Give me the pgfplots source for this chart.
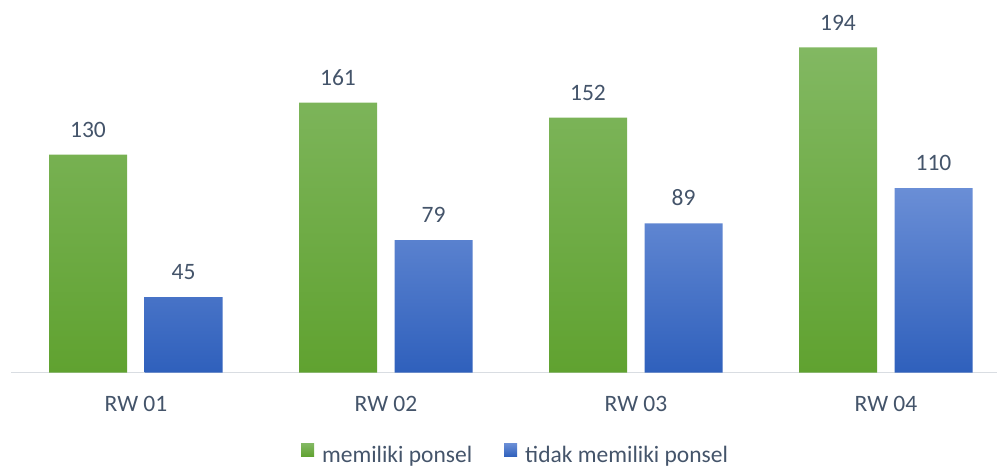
\documentclass[border=0pt]{standalone}
\usepackage{fontspec}
\setmainfont{Carlito}
\usepackage{pgfplots}
\pgfplotsset{compat=1.18}
\definecolor{txt}{HTML}{44546A}
\definecolor{axgray}{HTML}{D9DDE2}
\definecolor{gtop}{HTML}{82B862}
\definecolor{gbot}{HTML}{60A230}
\definecolor{btop}{HTML}{6A8ED6}
\definecolor{bbot}{HTML}{2F60BC}
\begin{document}
\begin{tikzpicture}
\useasboundingbox (0,0) rectangle (997bp,468bp);
\begin{axis}[
  at={(11bp,95.5bp)}, anchor=south west,
  scale only axis, width=986bp, height=352bp,
  xmin=-0.5, xmax=3.444, ymin=0, ymax=210,
  clip=false,
  ybar, bar width=78bp,
  hide y axis,
  axis x line=bottom,
  x axis line style={draw=axgray, line width=1.5bp, -},
  xtick={0,1,2,3},
  xticklabels={RW 01,RW 02,RW 03,RW 04},
  major tick length=0pt,
  /pgf/number format/assume math mode=true,
  x tick label style={font=\fontsize{23.5bp}{27bp}\selectfont, text=txt, anchor=north, inner sep=0pt, yshift=-24bp},
  nodes near coords,
  every node near coord/.append style={font=\fontsize{23.5bp}{27bp}\selectfont, text=txt, anchor=south, inner sep=0pt, yshift=17bp},
  legend style={at={(0.5117,-0.2344)}, anchor=center, draw=none, fill=none,
    legend columns=2, font=\fontsize{23.5bp}{27bp}\selectfont, text=txt,
    /tikz/every even column/.append style={column sep=30bp}},
  legend image code/.code={\path[#1,draw=none] (0bp,-1bp) rectangle (13bp,12bp); \path (13bp,0bp) -- (19bp,0bp);},
]
\addplot[bar shift=-48bp, draw=none, top color=gtop, bottom color=gbot]
  coordinates {(0,130) (1,161) (2,152) (3,194)};
\addlegendentry{memiliki ponsel}
\addplot[bar shift=47.5bp, draw=none, top color=btop, bottom color=bbot]
  coordinates {(0,45) (1,79) (2,89) (3,110)};
\addlegendentry{tidak memiliki ponsel}
\end{axis}
\end{tikzpicture}
\end{document}
